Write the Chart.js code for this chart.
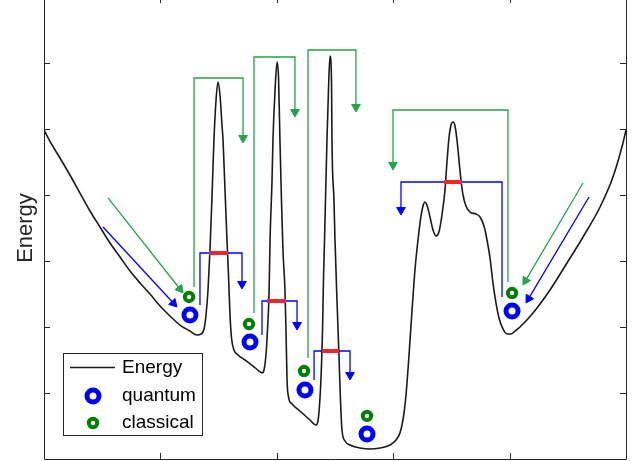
<!DOCTYPE html>
<html lang="en">
<head>
  <meta charset="UTF-8">
  <title>Energy landscape</title>
  <script src="https://cdn.jsdelivr.net/npm/chart.js"></script>
  <style>
    body { margin: 0; background: #fff; }
    #wrap { width: 639px; height: 461px; }
  </style>
</head>
<body>
  <div id="wrap"><canvas id="energyChart" width="639" height="461"></canvas></div>

  <script>
    // energy curve (arbitrary units)
    const energyX = [0, 0.069, 0.137, 0.223, 0.309, 0.395, 0.481, 0.567, 0.653, 0.739, 0.825, 0.911, 0.997, 1.082, 1.168, 1.254, 1.314, 1.349, 1.375,
      1.392, 1.409, 1.426, 1.443, 1.460, 1.478, 1.495, 1.512, 1.529, 1.538, 1.555, 1.572, 1.585, 1.598, 1.611, 1.632, 1.667, 1.727, 1.796, 1.847, 1.873,
      1.890, 1.907, 1.920, 1.933, 1.942, 1.959, 1.967, 1.985, 2.002, 2.015, 2.027, 2.040, 2.053, 2.070, 2.079, 2.088, 2.101, 2.131, 2.199, 2.285, 2.337,
      2.354, 2.371, 2.384, 2.393, 2.401, 2.410, 2.431, 2.444, 2.457, 2.470, 2.474, 2.491, 2.500, 2.517, 2.534, 2.547, 2.560, 2.586, 2.629, 2.715, 2.801,
      2.887, 2.973, 3.024, 3.058, 3.084, 3.110, 3.136, 3.162, 3.187, 3.213, 3.239, 3.256, 3.273, 3.290, 3.316, 3.342, 3.368, 3.393, 3.419, 3.445, 3.462,
      3.479, 3.497, 3.514, 3.531, 3.548, 3.565, 3.582, 3.600, 3.625, 3.660, 3.711, 3.746, 3.780, 3.806, 3.832, 3.857, 3.883, 3.909, 3.943, 3.978, 4.012,
      4.046, 4.089, 4.201, 4.347, 4.493, 4.631, 4.777, 4.888, 4.974, 5.000];
    const energyY = [4.985, 4.758, 4.561, 4.303, 4.030, 3.758, 3.515, 3.273, 3.061, 2.848, 2.667, 2.500, 2.318, 2.167, 2.030, 1.939, 1.879, 1.894, 1.970,
      2.182, 2.561, 3.167, 3.955, 4.833, 5.439, 5.712, 5.515, 5.061, 4.833, 4.076, 3.318, 2.788, 2.182, 1.833, 1.652, 1.576, 1.500, 1.409, 1.333, 1.303,
      1.348, 1.576, 1.955, 2.485, 3.318, 4.227, 4.833, 5.591, 6.015, 5.773, 4.833, 3.924, 3.167, 2.561, 1.955, 1.197, 0.939, 0.833, 0.727, 0.591, 0.515,
      0.576, 0.924, 1.424, 1.955, 2.712, 3.318, 4.833, 5.591, 6.106, 5.742, 4.833, 3.924, 3.318, 2.409, 1.576, 0.894, 0.439, 0.273, 0.212, 0.167, 0.152,
      0.167, 0.212, 0.288, 0.394, 0.591, 0.970, 1.576, 2.258, 2.864, 3.318, 3.682, 3.833, 3.894, 3.848, 3.667, 3.470, 3.379, 3.439, 3.697, 4.076, 4.500,
      4.864, 5.061, 5.106, 5.045, 4.833, 4.530, 4.227, 4.000, 3.833, 3.742, 3.712, 3.667, 3.530, 3.318, 3.045, 2.667, 2.364, 2.136, 1.970, 1.894, 1.894,
      1.939, 2.000, 2.212, 2.561, 2.970, 3.364, 3.818, 4.273, 4.788, 4.985];

    // particle positions in each well
    const quantumX = [1.254, 1.770, 2.242, 2.775, 4.021];
    const quantumY = [2.182, 1.773, 1.045, 0.379, 2.242];
    const classicalX = [1.246, 1.761, 2.234, 2.775, 4.021];
    const classicalY = [2.455, 2.045, 1.333, 0.652, 2.515];

    // barrier width at the tunnelling energy (red bars)
    const barrierLevel = [3.121, 2.394, 1.636, 4.197];
    const barrierLeft = [1.418, 1.916, 2.388, 3.436];
    const barrierRight = [1.581, 2.079, 2.534, 3.591];

    // tunnelling paths (blue) and hops over the barrier (green)
    const tunnelX = [[1.340, 1.340, 1.701, 1.701], [1.873, 1.873, 2.174, 2.174], [2.320, 2.320, 2.629, 2.629], [3.935, 3.935, 3.067, 3.067]];
    const tunnelY = [[2.333, 3.121, 3.121, 2.652], [1.879, 2.394, 2.394, 2.030], [1.197, 1.636, 1.636, 1.273], [2.455, 4.197, 4.197, 3.773]];
    const hopX = [[1.289, 1.289, 1.710, 1.710], [1.804, 1.804, 2.156, 2.156], [2.268, 2.268, 2.680, 2.680], [3.986, 3.986, 2.998, 2.998]];
    const hopY = [[2.606, 5.773, 5.773, 4.864], [2.212, 6.091, 6.091, 5.258], [1.530, 6.197, 6.197, 5.333], [2.682, 5.288, 5.288, 4.455]];

    // sliding down the outer walls
    const slideQX = [[0.507, 1.113], [4.682, 4.163]];
    const slideQY = [[3.515, 2.359], [3.970, 2.429]];
    const slideCX = [[0.550, 1.168], [4.631, 4.137]];
    const slideCY = [[3.955, 2.576], [4.182, 2.702]];

    const xTicks = [1, 2, 3, 4];
    const yTicks = [1, 2, 3, 4, 5, 6];

    const BLUE = '#0000ff';
    const GREEN_LINE = '#26a34c';
    const GREEN_MARK = '#008000';
    const RED = '#f0262b';

    const pts = (xs, ys) => xs.map((x, i) => ({ x: x, y: ys[i] }));

    // arrow head sits on the last point, turned along the last segment
    function tipRotation(ctx) {
      const d = ctx.dataset.data, i = ctx.dataIndex;
      if (i === 0) return 0;
      const sx = ctx.chart.scales.x, sy = ctx.chart.scales.y;
      const dx = sx.getPixelForValue(d[i].x) - sx.getPixelForValue(d[i - 1].x);
      const dy = sy.getPixelForValue(d[i].y) - sy.getPixelForValue(d[i - 1].y);
      return Math.atan2(dx, -dy) * 180 / Math.PI;
    }

    function arrow(xs, ys, color) {
      return {
        data: pts(xs, ys),
        showLine: true,
        borderColor: color,
        borderWidth: 1.3,
        tension: 0,
        pointStyle: 'triangle',
        pointRadius: ctx => ctx.dataIndex === ctx.dataset.data.length - 1 ? 5 : 0,
        pointRotation: tipRotation,
        pointBackgroundColor: color,
        pointBorderColor: color,
        pointBorderWidth: 1
      };
    }

    const datasets = [];
    // first in list is drawn on top
    datasets.push({
      data: pts(quantumX, quantumY), showLine: false, pointStyle: 'circle',
      pointRadius: 6, pointBorderWidth: 5, pointBorderColor: BLUE, pointBackgroundColor: 'rgba(0,0,0,0)'
    });
    datasets.push({
      data: pts(classicalX, classicalY), showLine: false, pointStyle: 'circle',
      pointRadius: 4.2, pointBorderWidth: 4, pointBorderColor: GREEN_MARK, pointBackgroundColor: 'rgba(0,0,0,0)'
    });
    barrierLevel.forEach((lv, i) => {
      datasets.push({
        data: [{ x: barrierLeft[i], y: lv }, { x: barrierRight[i], y: lv }],
        showLine: true, borderColor: RED, borderWidth: 4, borderCapStyle: 'butt', pointRadius: 0
      });
    });
    tunnelX.forEach((xs, i) => datasets.push(arrow(xs, tunnelY[i], BLUE)));
    hopX.forEach((xs, i) => datasets.push(arrow(xs, hopY[i], GREEN_LINE)));
    slideQX.forEach((xs, i) => datasets.push(arrow(xs, slideQY[i], BLUE)));
    slideCX.forEach((xs, i) => datasets.push(arrow(xs, slideCY[i], GREEN_LINE)));
    datasets.push({
      data: pts(energyX, energyY), showLine: true, borderColor: '#1a1a1a', borderWidth: 1.6,
      pointRadius: 0, cubicInterpolationMode: 'monotone'
    });

    const FONT = '"Liberation Sans", Arial, sans-serif';

    const frame = {
      id: 'frame',
      afterDraw(chart) {
        const ctx = chart.ctx, a = chart.chartArea, sx = chart.scales.x, sy = chart.scales.y;
        ctx.save();
        ctx.strokeStyle = '#262626';
        ctx.lineWidth = 1;
        ctx.beginPath();
        ctx.moveTo(a.left + 0.5, a.top);
        ctx.lineTo(a.left + 0.5, a.bottom + 0.5);
        ctx.lineTo(a.right + 0.5, a.bottom + 0.5);
        ctx.lineTo(a.right + 0.5, a.top);
        xTicks.forEach(v => {
          const px = Math.round(sx.getPixelForValue(v)) + 0.5;
          ctx.moveTo(px, a.bottom); ctx.lineTo(px, a.bottom - 6);
          ctx.moveTo(px, a.top); ctx.lineTo(px, a.top + 3);
        });
        yTicks.forEach(v => {
          const py = Math.round(sy.getPixelForValue(v)) + 0.5;
          ctx.moveTo(a.left, py); ctx.lineTo(a.left + 6, py);
          ctx.moveTo(a.right, py); ctx.lineTo(a.right - 6, py);
        });
        ctx.stroke();

        // y label
        ctx.save();
        ctx.translate(32, 228);
        ctx.rotate(-Math.PI / 2);
        ctx.fillStyle = '#262626';
        ctx.font = '22px ' + FONT;
        ctx.textAlign = 'center';
        ctx.textBaseline = 'alphabetic';
        ctx.fillText('Energy', 0, 0);
        ctx.restore();

        // legend box
        ctx.fillStyle = '#fff';
        ctx.fillRect(63.5, 353.5, 139, 82);
        ctx.strokeStyle = '#262626';
        ctx.strokeRect(63.5, 353.5, 139, 82);
        ctx.font = '19px ' + FONT;
        ctx.fillStyle = '#000';
        ctx.textBaseline = 'middle';
        ctx.textAlign = 'left';

        ctx.strokeStyle = '#1a1a1a';
        ctx.lineWidth = 1.6;
        ctx.beginPath(); ctx.moveTo(70, 367.5); ctx.lineTo(115, 367.5); ctx.stroke();
        ctx.fillText('Energy', 122, 368);

        ctx.strokeStyle = BLUE; ctx.lineWidth = 5;
        ctx.beginPath(); ctx.arc(93, 396, 6, 0, Math.PI * 2); ctx.stroke();
        ctx.fillText('quantum', 122, 396);

        ctx.strokeStyle = GREEN_MARK; ctx.lineWidth = 4;
        ctx.beginPath(); ctx.arc(93, 423, 4.2, 0, Math.PI * 2); ctx.stroke();
        ctx.fillText('classical', 122, 423);
        ctx.restore();
      }
    };

    new Chart(document.getElementById('energyChart').getContext('2d'), {
      type: 'scatter',
      data: { datasets: datasets },
      options: {
        responsive: false,
        animation: false,
        events: [],
        layout: { autoPadding: false, padding: { left: 44, right: 13, top: 0, bottom: 2 } },
        scales: {
          x: { type: 'linear', min: 0, max: 5, display: false },
          y: { type: 'linear', min: 0, max: 459 / 66, display: false }
        },
        plugins: { legend: { display: false }, tooltip: { enabled: false } }
      },
      plugins: [frame]
    });
  </script>
</body>
</html>
